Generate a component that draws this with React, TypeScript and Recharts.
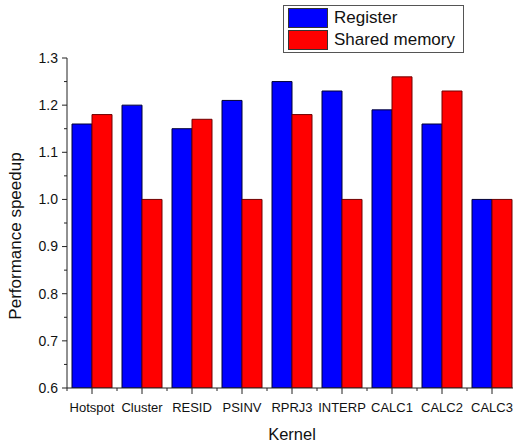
import { BarChart, Bar, XAxis, YAxis, Legend } from "recharts";

const kernels = ["Hotspot", "Cluster", "RESID", "PSINV", "RPRJ3", "INTERP", "CALC1", "CALC2", "CALC3"];
const registerSpeedup = [1.16, 1.2, 1.15, 1.21, 1.25, 1.23, 1.19, 1.16, 1.0];
const sharedSpeedup = [1.18, 1.0, 1.17, 1.0, 1.18, 1.0, 1.26, 1.23, 1.0];
const yTicks = [0.6, 0.65, 0.7, 0.75, 0.8, 0.85, 0.9, 0.95, 1.0, 1.05, 1.1, 1.15, 1.2, 1.25, 1.3];

const data = kernels.map((k, i) => ({
  kernel: k,
  register: registerSpeedup[i],
  shared: sharedSpeedup[i],
}));

const font = "Arial, 'Liberation Sans', sans-serif";

const isMajor = (v: number) => Math.abs(v * 10 - Math.round(v * 10)) < 1e-6;

const YTick = (props: any) => {
  const { x, y, payload } = props;
  const major = isMajor(payload.value);
  return (
    <g>
      <line x1={x - (major ? 5 : 3)} x2={x} y1={y} y2={y} stroke="#222" />
      {major && (
        <text x={x - 9} y={y} dy="0.35em" textAnchor="end" fontSize={14} fill="#111" fontFamily={font}>
          {payload.value.toFixed(1)}
        </text>
      )}
    </g>
  );
};

const XTick = (props: any) => {
  const { x, y, payload, index } = props;
  const half = payload.offset || 25;
  return (
    <g>
      <line x1={x} x2={x} y1={y} y2={y + 6} stroke="#222" />
      <line x1={x - half} x2={x - half} y1={y} y2={y + 3} stroke="#222" />
      {index === kernels.length - 1 && <line x1={x + half} x2={x + half} y1={y} y2={y + 3} stroke="#222" />}
      <text x={x} y={y + 24} textAnchor="middle" fontSize={13} fill="#111" fontFamily={font}>
        {payload.value}
      </text>
    </g>
  );
};

const LegendBox = (props: any) => {
  const items = props.payload || [];
  return (
    <div
      style={{
        border: "1px solid #555",
        background: "#fff",
        padding: "1px 8px 1px 4px",
        fontFamily: font,
        fontSize: 17,
        color: "#111",
      }}
    >
      {items.map((it: any) => (
        <div key={it.value} style={{ display: "flex", alignItems: "center", height: 22 }}>
          <span
            style={{
              display: "inline-block",
              width: 38,
              height: 18,
              background: it.color,
              border: "1px solid #333",
              marginRight: 6,
            }}
          />
          {it.value}
        </div>
      ))}
    </div>
  );
};

export default function App() {
  return (
    <div style={{ position: "fixed", left: 0, top: 0, width: 513, height: 443, overflow: "hidden", background: "#fff" }}>
      <BarChart
        width={517}
        height={443}
        data={data}
        margin={{ top: 58, right: 0, left: 0, bottom: 25 }}
        barCategoryGap="10%"
        barGap={0}
      >
        <XAxis
          dataKey="kernel"
          height={30}
          axisLine={{ stroke: "#222" }}
          tickLine={false}
          tickSize={0}
          tickMargin={0}
          interval={0}
          tick={<XTick />}
          label={{
            content: () => (
              <text x={292} y={440} textAnchor="middle" fontSize={16.5} fill="#111" fontFamily={font}>
                Kernel
              </text>
            ),
          }}
        />
        <YAxis
          width={67}
          domain={[0.6, 1.3]}
          ticks={yTicks}
          interval={0}
          allowDataOverflow
          axisLine={{ stroke: "#222" }}
          tickLine={false}
          tickSize={0}
          tickMargin={0}
          tick={<YTick />}
          label={{
            content: () => (
              <text
                x={21}
                y={236}
                textAnchor="middle"
                fontSize={17}
                fill="#111"
                fontFamily={font}
                transform="rotate(-90, 21, 236)"
              >
                Performance speedup
              </text>
            ),
          }}
        />
        <Legend
          layout="horizontal"
          verticalAlign="middle"
          align="center"
          wrapperStyle={{ position: "absolute", left: 283, top: 5, width: "auto" }}
          content={<LegendBox />}
        />
        <Bar dataKey="register" name="Register" fill="#0000ff" stroke="#000033" strokeWidth={1} isAnimationActive={false} />
        <Bar dataKey="shared" name="Shared memory" fill="#ff0000" stroke="#700000" strokeWidth={1} isAnimationActive={false} />
      </BarChart>
    </div>
  );
}
